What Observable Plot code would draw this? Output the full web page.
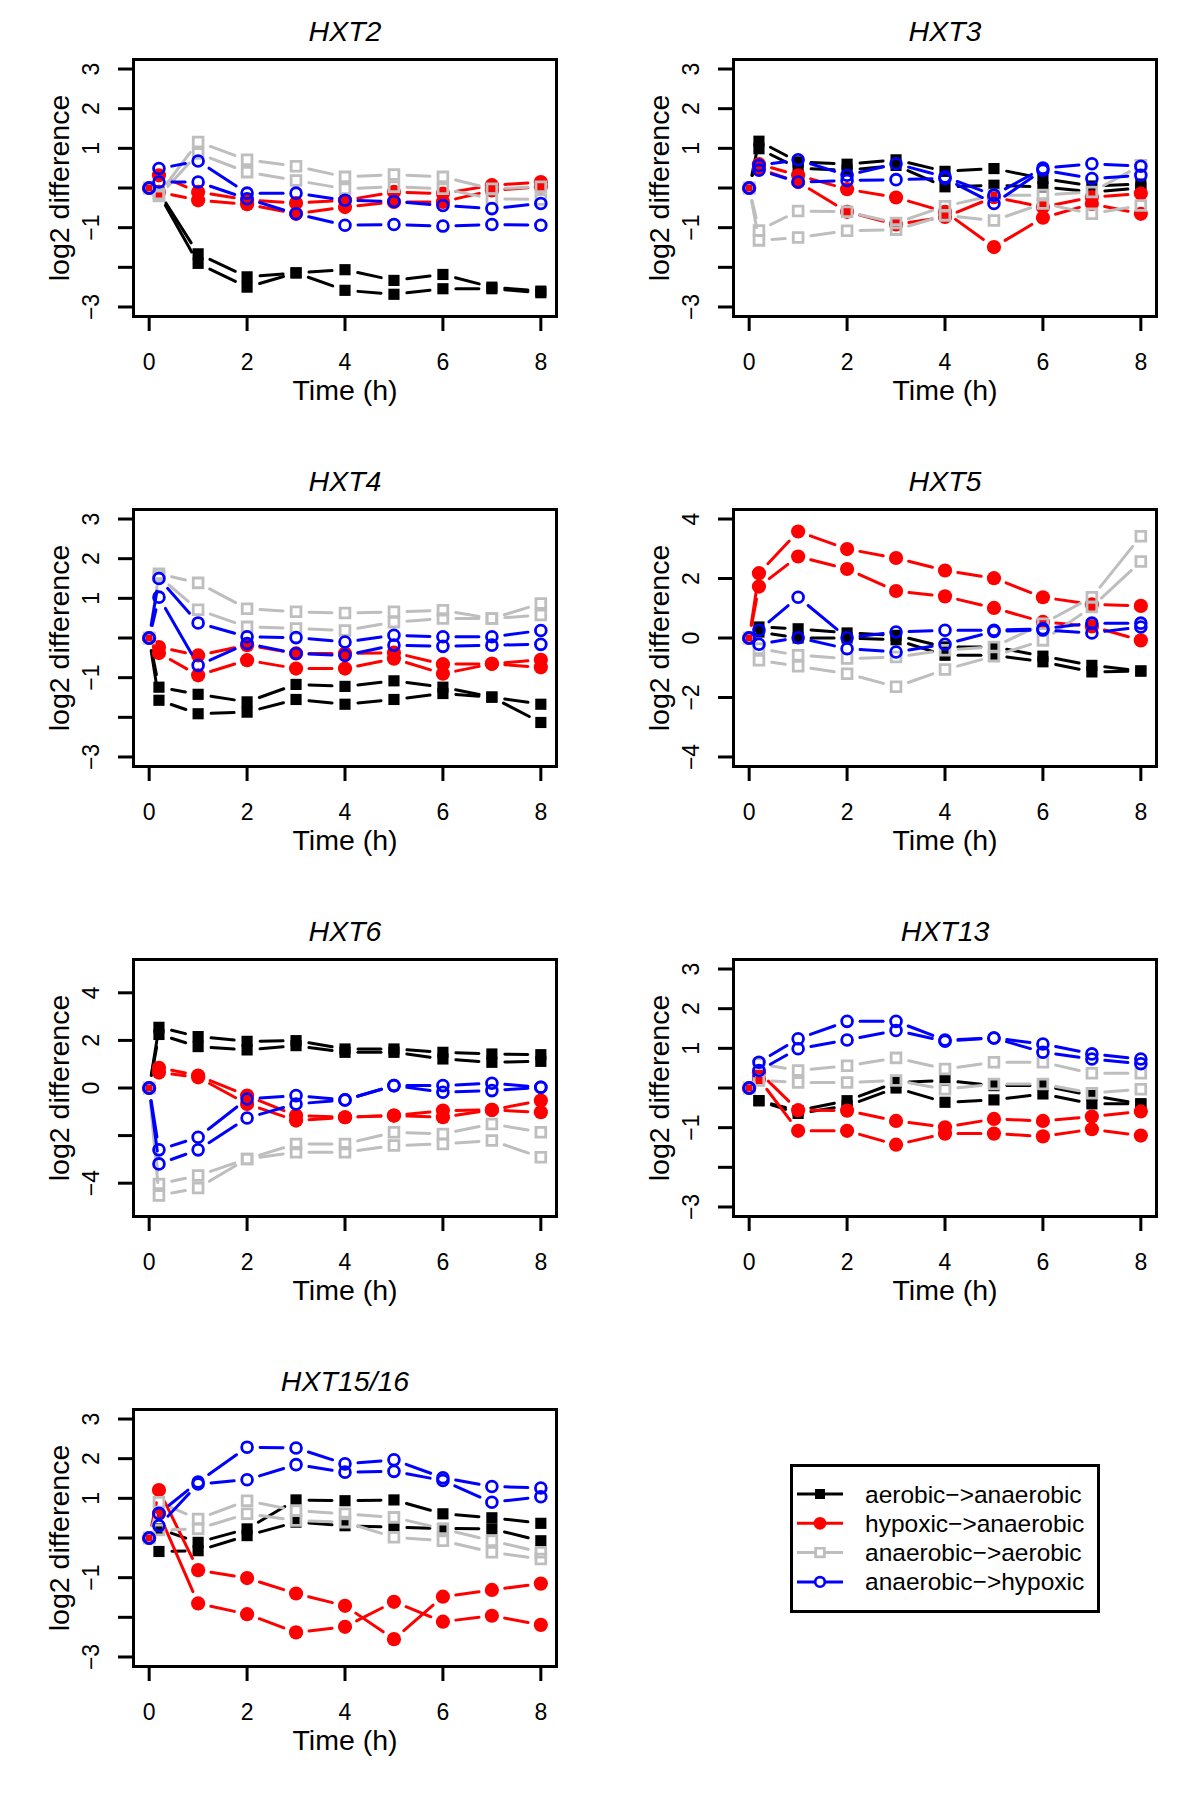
<!DOCTYPE html>
<html><head><meta charset="utf-8">
<script src="https://cdn.jsdelivr.net/npm/d3@7"></script>
<script src="https://cdn.jsdelivr.net/npm/@observablehq/plot@0.6"></script>
<style>
body{margin:0;background:#fff;}
#page{position:relative;width:1200px;height:1800px;background:#fff;font-family:"Liberation Sans",Arial,Helvetica,sans-serif;}
.panel{position:absolute;width:600px;height:450px;}
#legend{position:absolute;left:790px;top:1464px;}
</style></head><body><div id="page"></div>
<script>
// ---------- data ----------
const times = [0, 0.2, 1, 2, 3, 4, 5, 6, 7, 8];
const genes = ["HXT2", "HXT3", "HXT4", "HXT5", "HXT6", "HXT13", "HXT15/16"];
const conditions = ["aerobic−>anaerobic", "hypoxic−>anaerobic", "anaerobic−>aerobic", "anaerobic−>hypoxic"];
const condColors = ["#000000", "#FF0000", "#BEBEBE", "#0000FF"];
const condSymbols = ["square", "circle", "square", "circle"];
const condFilled = [true, true, false, false];
const xTicks = [0, 2, 4, 6, 8];
const yLimits = [3, 3, 3, 4, 5, 3, 3];
const yTicks3 = [-3, -2, -1, 0, 1, 2, 3];
const yTickLabels3 = ["−3", "", "−1", "", "1", "2", "3"];
const yTicks4 = [-4, -2, 0, 2, 4];
const yTickLabels4 = ["−4", "−2", "0", "2", "4"];
const yTicks5 = [-4, -2, 0, 2, 4];
const yTickLabels5 = ["−4", "", "0", "2", "4"];

// each array: two replicate time courses, values at `times`
const HXT2_aer_anaer = [[0, -0.1, -1.66, -2.24, -2.14, -2.06, -2.33, -2.18, -2.5, -2.6],
                        [0, -0.15, -1.9, -2.5, -2.14, -2.58, -2.68, -2.54, -2.54, -2.64]];
const HXT2_hyp_anaer = [[0, 0.32, -0.1, -0.3, -0.38, -0.31, -0.1, -0.14, 0.07, 0.15],
                        [0, -0.1, -0.31, -0.41, -0.65, -0.48, -0.35, -0.35, -0.06, 0.03]];
const HXT2_anaer_aer = [[0, -0.15, 1.16, 0.71, 0.55, 0.28, 0.34, 0.28, -0.02, 0.03],
                        [0, -0.2, 0.87, 0.4, 0.19, -0.02, 0.03, -0.02, -0.27, -0.29]];
const HXT2_anaer_hyp = [[0, 0.49, 0.68, -0.13, -0.13, -0.31, -0.34, -0.44, -0.52, -0.39],
                        [0, 0.15, 0.15, -0.27, -0.65, -0.94, -0.92, -0.96, -0.92, -0.94]];

const HXT3_aer_anaer = [[0, 1.18, 0.66, 0.6, 0.71, 0.42, 0.49, 0.24, 0.05, 0.1],
                        [0, 0.99, 0.5, 0.45, 0.57, 0.03, 0.07, 0.03, -0.1, 0]];
const HXT3_hyp_anaer = [[0, 0.6, 0.32, -0.03, -0.24, -0.6, -1.49, -0.75, -0.4, -0.65],
                        [0, 0.49, 0.15, -0.6, -0.92, -0.73, -0.23, -0.48, -0.23, -0.14]];
const HXT3_anaer_aer = [[0, -1.07, -0.58, -0.6, -0.88, -0.46, -0.18, -0.18, -0.1, 0.57],
                        [0, -1.32, -1.25, -1.08, -1.05, -0.69, -0.82, -0.39, -0.65, -0.44]];
const HXT3_anaer_hyp = [[0, 0.57, 0.71, 0.32, 0.61, 0.28, -0.18, 0.5, 0.61, 0.55],
                        [0, 0.45, 0.15, 0.19, 0.21, 0.24, -0.39, 0.45, 0.24, 0.32]];

const HXT4_aer_anaer = [[0, -1.24, -1.42, -1.61, -1.17, -1.22, -1.08, -1.24, -1.49, -1.67],
                        [0, -1.57, -1.91, -1.87, -1.55, -1.67, -1.55, -1.4, -1.49, -2.13]];
const HXT4_hyp_anaer = [[0, -0.23, -0.44, -0.18, -0.39, -0.39, -0.37, -0.66, -0.65, -0.55],
                        [0, -0.38, -0.94, -0.56, -0.77, -0.77, -0.52, -0.9, -0.65, -0.74]];
const HXT4_anaer_aer = [[0, 1.62, 1.39, 0.74, 0.66, 0.63, 0.66, 0.7, 0.49, 0.87],
                        [0, 1.55, 0.71, 0.28, 0.24, 0.19, 0.4, 0.49, 0.49, 0.58]];
const HXT4_anaer_hyp = [[0, 1.5, 0.38, 0.03, 0.01, -0.1, 0.07, 0.03, 0.03, 0.19],
                        [0, 1.03, -0.69, -0.14, -0.39, -0.44, -0.18, -0.21, -0.18, -0.16]];

const HXT5_aer_anaer = [[0, 0.37, 0.31, 0.17, 0.09, -0.3, -0.3, -0.61, -0.92, -1.11],
                        [0, 0.2, 0.0, 0.0, -0.06, -0.58, -0.58, -0.8, -1.14, -1.11]];
const HXT5_hyp_anaer = [[0, 2.18, 3.58, 2.99, 2.69, 2.27, 2.01, 1.37, 1.13, 1.08],
                        [0, 1.73, 2.74, 2.32, 1.58, 1.4, 1.01, 0.54, 0.39, -0.08]];
const HXT5_anaer_aer = [[0, -0.36, -0.58, -0.69, -0.64, -0.41, -0.3, 0.48, 1.37, 3.42],
                        [0, -0.75, -0.95, -1.2, -1.64, -1.06, -0.61, -0.08, 1.04, 2.57]];
const HXT5_anaer_hyp = [[0, 0.26, 1.37, 0.01, 0.2, 0.26, 0.26, 0.31, 0.5, 0.5],
                        [0, -0.21, 0.01, -0.36, -0.47, -0.21, 0.22, 0.27, 0.17, 0.37]];

const HXT6_aer_anaer = [[0, 2.55, 2.16, 1.96, 1.99, 1.64, 1.64, 1.5, 1.43, 1.4],
                        [0, 2.25, 1.74, 1.6, 1.78, 1.5, 1.5, 1.22, 1.08, 1.12]];
const HXT6_hyp_anaer = [[0, 0.85, 0.52, -0.32, -1.16, -1.23, -1.16, -0.95, -0.92, -0.53],
                        [0, 0.65, 0.45, -0.67, -1.37, -1.23, -1.16, -1.23, -0.92, -1.02]];
const HXT6_anaer_aer = [[0, -4.03, -3.68, -2.98, -2.35, -2.35, -1.86, -1.93, -1.51, -1.86],
                        [0, -4.52, -4.2, -2.98, -2.7, -2.7, -2.42, -2.35, -2.21, -2.91]];
const HXT6_anaer_hyp = [[0, -2.6, -2.07, -0.46, -0.32, -0.5, 0.1, 0.1, 0.2, 0.03],
                        [0, -3.19, -2.6, -1.26, -0.67, -0.5, 0.1, -0.18, -0.11, 0.03]];

const HXT13_aer_anaer = [[0, -0.32, -0.57, -0.32, 0.14, 0.19, 0.06, 0.06, -0.19, -0.4],
                         [0, -0.32, -0.64, -0.45, 0.0, -0.36, -0.3, -0.15, -0.4, -0.4]];
const HXT13_hyp_anaer = [[0, 0.4, -0.56, -0.57, -0.83, -0.99, -0.78, -0.83, -0.72, -0.59],
                         [0, 0.23, -1.08, -1.08, -1.43, -1.15, -1.15, -1.22, -1.04, -1.2]];
const HXT13_anaer_aer = [[0, 0.61, 0.44, 0.56, 0.76, 0.48, 0.65, 0.65, 0.37, 0.37],
                         [0, 0.19, 0.14, 0.14, 0.19, -0.03, 0.1, 0.1, -0.13, -0.03]];
const HXT13_anaer_hyp = [[0, 0.65, 1.24, 1.68, 1.68, 1.21, 1.26, 1.11, 0.86, 0.73],
                         [0, 0.44, 0.99, 1.21, 1.45, 1.18, 1.26, 0.9, 0.73, 0.61]];

const HXT1516_aer_anaer = [[0, 0.23, -0.11, 0.23, 0.96, 0.94, 0.96, 0.61, 0.51, 0.37],
                           [0, -0.34, -0.32, 0.06, 0.4, 0.31, 0.27, 0.24, 0.23, -0.07]];
const HXT1516_hyp_anaer = [[0, 1.21, -0.81, -1.01, -1.4, -1.71, -2.55, -1.48, -1.31, -1.15],
                           [0, 0.61, -1.65, -1.92, -2.38, -2.24, -1.61, -2.11, -1.96, -2.19]];
const HXT1516_anaer_aer = [[0, 0.9, 0.48, 0.94, 0.69, 0.61, 0.52, 0.23, -0.07, -0.36],
                           [0, 0.2, 0.23, 0.61, 0.44, 0.4, 0.02, -0.07, -0.36, -0.53]];
const HXT1516_anaer_hyp = [[0, 0.62, 1.41, 2.29, 2.27, 1.87, 1.97, 1.52, 1.3, 1.26],
                           [0, 0.31, 1.36, 1.47, 1.85, 1.66, 1.68, 1.45, 0.9, 1.04]];

// ---------- assembly ----------
const geneSeries = [
  [HXT2_aer_anaer, HXT2_hyp_anaer, HXT2_anaer_aer, HXT2_anaer_hyp],
  [HXT3_aer_anaer, HXT3_hyp_anaer, HXT3_anaer_aer, HXT3_anaer_hyp],
  [HXT4_aer_anaer, HXT4_hyp_anaer, HXT4_anaer_aer, HXT4_anaer_hyp],
  [HXT5_aer_anaer, HXT5_hyp_anaer, HXT5_anaer_aer, HXT5_anaer_hyp],
  [HXT6_aer_anaer, HXT6_hyp_anaer, HXT6_anaer_aer, HXT6_anaer_hyp],
  [HXT13_aer_anaer, HXT13_hyp_anaer, HXT13_anaer_aer, HXT13_anaer_hyp],
  [HXT1516_aer_anaer, HXT1516_hyp_anaer, HXT1516_anaer_aer, HXT1516_anaer_hyp]
];
const geneTicks = [
  [yTicks3, yTickLabels3], [yTicks3, yTickLabels3], [yTicks3, yTickLabels3],
  [yTicks4, yTickLabels4], [yTicks5, yTickLabels5],
  [yTicks3, yTickLabels3], [yTicks3, yTickLabels3]
];

const FONT = "Liberation Sans, Arial, Helvetica, sans-serif";
const GAP = 13;           // R type="b" gap around points (px)
const dotR = [6.3, 7.1, 5.5, 5.4];

function baseOptions(gi) {
  const lim = yLimits[gi] * 1.08;
  return {
    width: 600, height: 450,
    marginLeft: 133, marginRight: 44, marginTop: 59, marginBottom: 134,
    style: {fontFamily: FONT, background: "white", color: "black"},
    x: {domain: [-0.32, 8.32], label: null},
    y: {domain: [-lim, lim], label: null}
  };
}

const page = document.getElementById("page");

genes.forEach((gene, gi) => {
  const series = geneSeries[gi];
  const pts = [], segs = [];
  series.forEach((reps, ci) => reps.forEach((vals, ri) => {
    vals.forEach((v, ti) => {
      pts.push({cond: ci, rep: ri, t: times[ti], v});
      if (ti < vals.length - 1) segs.push({cond: ci, rep: ri, t1: times[ti], v1: v, t2: times[ti + 1], v2: vals[ti + 1]});
    });
  }));

  // probe plot to get the scales, then drop segments shorter than the two gaps (as R type="b")
  const probe = Plot.plot({...baseOptions(gi), marks: [Plot.frame()]});
  const sx = probe.scale("x"), sy = probe.scale("y");
  const visSegs = segs.filter(s => Math.hypot(sx.apply(s.t2) - sx.apply(s.t1), sy.apply(s.v2) - sy.apply(s.v1)) > 2 * GAP + 1);

  const [yt, ylab] = geneTicks[gi];
  const labelMap = new Map(yt.map((t, i) => [t, ylab[i]]));

  const marks = [
    Plot.axisX({ticks: xTicks, tickSize: 15, tickPadding: 22, fontSize: 23, strokeWidth: 3, label: null, tickFormat: d => String(d)}),
    Plot.axisY({ticks: yt, tickSize: 15, tickPadding: 20, fontSize: 23, strokeWidth: 3, tickRotate: -90, label: null, tickFormat: d => labelMap.get(d)})
  ];
  conditions.forEach((c, ci) => {
    marks.push(Plot.arrow(visSegs.filter(s => s.cond === ci), {
      x1: "t1", y1: "v1", x2: "t2", y2: "v2", bend: 0, headLength: 0,
      insetStart: GAP, insetEnd: GAP, stroke: condColors[ci], strokeWidth: 3
    }));
    marks.push(Plot.dot(pts.filter(p => p.cond === ci), {
      x: "t", y: "v", symbol: condSymbols[ci], r: dotR[ci],
      fill: condFilled[ci] ? condColors[ci] : "none",
      stroke: condFilled[ci] ? "none" : condColors[ci],
      strokeWidth: 2.8
    }));
  });
  marks.push(Plot.frame({stroke: "black", strokeWidth: 3}));
  marks.push(Plot.text([gene], {text: d => d, frameAnchor: "top", lineAnchor: "middle", textAnchor: "middle", dy: -27.5, fontSize: 28.5, fontStyle: "italic"}));
  marks.push(Plot.text(["Time (h)"], {text: d => d, frameAnchor: "bottom", lineAnchor: "middle", textAnchor: "middle", dy: 74, fontSize: 28.5}));
  marks.push(Plot.text(["log2 difference"], {text: d => d, frameAnchor: "left", lineAnchor: "middle", textAnchor: "middle", dx: -74, rotate: -90, fontSize: 28.5}));

  const plot = Plot.plot({...baseOptions(gi), marks});
  const div = document.createElement("div");
  div.className = "panel";
  div.style.left = (gi % 2) * 600 + "px";
  div.style.top = Math.floor(gi / 2) * 450 + "px";
  div.appendChild(plot);
  page.appendChild(div);
});

// ---------- legend ----------
const lg = d3.select("#page").append("svg").attr("id", "legend")
  .attr("width", 310).attr("height", 149).style("font-family", FONT);
lg.append("rect").attr("x", 1.5).attr("y", 1.5).attr("width", 307).attr("height", 146)
  .attr("fill", "white").attr("stroke", "black").attr("stroke-width", 3);
conditions.forEach((c, ci) => {
  const g = lg.append("g").attr("transform", `translate(0,${30 + ci * 29.3})`);
  g.append("line").attr("x1", 7).attr("x2", 53).attr("y1", 0).attr("y2", 0)
    .attr("stroke", condColors[ci]).attr("stroke-width", 3);
  const sym = d3.symbol(condSymbols[ci] === "square" ? d3.symbolSquare : d3.symbolCircle, Math.PI * dotR[ci] * dotR[ci] * 0.8)();
  g.append("path").attr("d", sym).attr("transform", "translate(30,0)")
    .attr("fill", condFilled[ci] ? condColors[ci] : "white")
    .attr("stroke", condFilled[ci] ? "none" : condColors[ci]).attr("stroke-width", 2.7);
  g.append("text").attr("x", 75).attr("y", 0).attr("dy", "0.35em")
    .attr("font-size", 24.5).text(c);
});
</script>
</body></html>
